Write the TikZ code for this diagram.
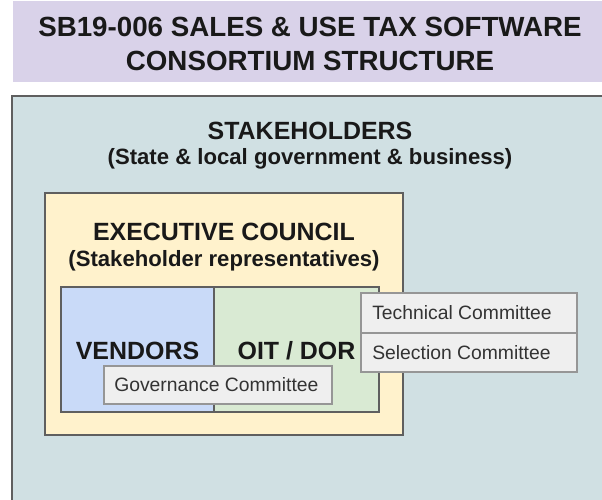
\documentclass[tikz,border=0pt]{standalone}
\usepackage{fontspec}
\setmainfont{Liberation Sans}
\usetikzlibrary{positioning}
\definecolor{cTitle}{RGB}{217,210,233}
\definecolor{cStake}{RGB}{208,224,227}
\definecolor{cExec}{RGB}{255,242,204}
\definecolor{cVend}{RGB}{201,218,248}
\definecolor{cOit}{RGB}{217,234,211}
\definecolor{cCom}{RGB}{239,239,239}
\definecolor{cEdge}{RGB}{95,95,95}
\definecolor{cComEdge}{RGB}{150,150,150}

\begin{document}
\begin{tikzpicture}[x=0.75pt,y=-0.75pt,
  frame/.style={draw=cEdge,line width=1.4pt},
  cbox/.style={draw=cComEdge,fill=cCom,line width=1.2pt},
  head/.style={font=\fontsize{18.7}{22}\selectfont\bfseries,text=black!90,inner sep=0pt},
  sub/.style={font=\fontsize{16.6}{20}\selectfont\bfseries,text=black!90,inner sep=0pt},
  ctext/.style={font=\fontsize{14.5}{17}\selectfont,text=black!80,anchor=west,inner sep=0pt}]
  \useasboundingbox (0,0) rectangle (602,499);
  \begin{scope}
    \clip (0,0) rectangle (602,499);
    \fill[cTitle] (13,1) rectangle (610,82);
    \path[frame,fill=cStake] (12,96) rectangle (615,515);
  \end{scope}
  \node[font=\fontsize{20.8}{25.5}\selectfont\bfseries,align=center,text=black!90] (title) at (310,44)
       {SB19-006 SALES \& USE TAX SOFTWARE\\CONSORTIUM STRUCTURE};
  \node[head] (stake) at (310,131) {STAKEHOLDERS};
  \node[sub] (stakesub) at (310,159) {(State \& local government \& business)};
  \path[frame,fill=cExec] (45,193) rectangle (403,435);
  \node[head] (exec) at (224,232) {EXECUTIVE COUNCIL};
  \node[sub] (execsub) at (224,261) {(Stakeholder representatives)};
  \path[frame,fill=cVend] (61,287) rectangle (214,412);
  \path[frame,fill=cOit] (214,287) rectangle (379,412);
  \node[head] (vend) at (137.5,351) {VENDORS};
  \node[head] (oit) at (296.5,351) {OIT / DOR};
  \path[cbox] (104,366) rectangle (332,404);
  \node[ctext] (gov) at (114,385) {Governance Committee};
  \path[cbox] (361,293) rectangle (577,333);
  \path[cbox] (361,333) rectangle (577,372);
  \node[ctext] (tech) at (372,313) {Technical Committee};
  \node[ctext] (sel) at (372,352.5) {Selection Committee};
\end{tikzpicture}
\end{document}
